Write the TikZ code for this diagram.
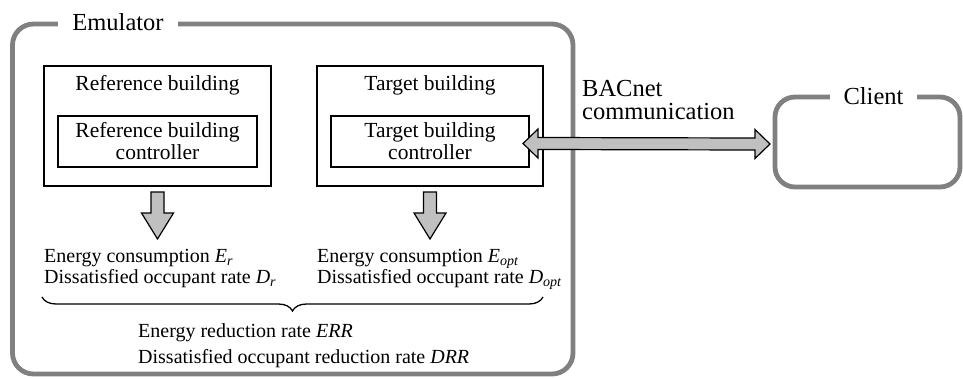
\documentclass[tikz,border=0pt]{standalone}
\usepackage{fontspec}
\setmainfont{Liberation Serif}
\usetikzlibrary{calc,decorations.pathreplacing}
\newcommand\symsub[2]{\textit{#1}\textsubscript{\textit{#2}}}
\definecolor{framegray}{HTML}{808080}
\definecolor{arrowgray}{HTML}{C0C0C0}
\tikzset{
  frame/.style={draw=framegray, line width=4.8pt, rounded corners=21pt,
    inner sep=0pt, outer sep=0pt},
  framelabel/.style={fill=white, inner xsep=14pt, inner ysep=3pt, anchor=base,
    font=\fontsize{24.5}{26}\selectfont},
  bldgbox/.style={draw, line width=1.2pt, inner sep=0pt, outer sep=0pt},
  ctrlbox/.style={draw, line width=1.2pt, inner sep=0pt, outer sep=0pt,
    align=center, font=\fontsize{21.5}{22}\selectfont},
  bldglabel/.style={anchor=base, inner sep=0pt, font=\fontsize{21.5}{22}\selectfont},
  bodytext/.style={anchor=base west, inner sep=0pt, font=\fontsize{20}{22}\selectfont},
  commtext/.style={anchor=base west, inner sep=0pt, font=\fontsize{24.5}{26}\selectfont},
  blockarrow/.style={fill=arrowgray, draw=black, line width=1.2pt, line join=miter},
  bracestyle/.style={draw, line width=1.3pt, decorate,
    decoration={brace, mirror, amplitude=14pt}},
  pics/downarrow/.style={code={
    \filldraw[blockarrow] (-6.5,0) -- (6.5,0) -- (6.5,21) -- (16,21) -- (0,47)
      -- (-16,21) -- (-6.5,21) -- cycle;
  }}
}
\begin{document}
\begin{tikzpicture}[x=1pt, y=-1pt]
\useasboundingbox (0,0) rectangle (963,378);

% outer frames
\node[frame, minimum width=560.5pt, minimum height=350pt] (emulator) at (292.75,199) {};
\node[framelabel] (emutitle) at (118,30) {Emulator};
\node[frame, rounded corners=20pt, minimum width=185pt, minimum height=90pt] (client) at (867.5,142) {};
\node[framelabel] (clienttitle) at (873.5,104) {Client};

% buildings and their controllers
\node[bldgbox, minimum width=227pt, minimum height=120pt] (refbox) at (157.5,126) {};
\node[bldglabel] (reftitle) at (157.5,90) {Reference building};
\node[ctrlbox, minimum width=199pt, minimum height=51pt] (refctrl) at (157.5,141.5)
  {Reference building\\controller};

\node[bldgbox, minimum width=226pt, minimum height=120pt] (tgtbox) at (430,126) {};
\node[bldglabel] (tgttitle) at (430,90) {Target building};
\node[ctrlbox, minimum width=198pt, minimum height=51pt] (tgtctrl) at (430,141.5)
  {Target building\\controller};

% outputs of each building
\pic at ($(refbox.south)+(0,6)$) {downarrow};
\pic at ($(tgtbox.south)+(0,6)$) {downarrow};

\node[bodytext] (eref) at (44,262) {Energy consumption \symsub{E}{r}};
\node[bodytext] (dref) at (44,283) {Dissatisfied occupant rate \symsub{D}{r}};
\node[bodytext] (eopt) at (317,262) {Energy consumption \symsub{E}{opt}};
\node[bodytext] (dopt) at (317,283) {Dissatisfied occupant rate \symsub{D}{opt}};

\coordinate (braceL) at (42,297);
\coordinate (braceR) at (543,297);
\draw[bracestyle] (braceL) -- (braceR);

\node[bodytext] (err) at (138,337) {Energy reduction rate \textit{ERR}};
\node[bodytext] (drr) at (138,363) {Dissatisfied occupant reduction rate \textit{DRR}};

% BACnet link between target controller and client
\node[commtext] (bacnet) at (582,96) {BACnet};
\node[commtext] (comm) at (582,119) {communication};
\coordinate (linkL) at ($(tgtctrl.east)+(-6,2)$);
\coordinate (linkR) at ($(client.west)+(-5,2)$);
\filldraw[blockarrow] (linkL) -- ($(linkL)+(15,-14.5)$) -- ($(linkL)+(15,-6)$)
  -- ($(linkR)+(-15,-6)$) -- ($(linkR)+(-15,-14.5)$) -- (linkR)
  -- ($(linkR)+(-15,14.5)$) -- ($(linkR)+(-15,6)$) -- ($(linkL)+(15,6)$)
  -- ($(linkL)+(15,14.5)$) -- cycle;
\end{tikzpicture}
\end{document}
